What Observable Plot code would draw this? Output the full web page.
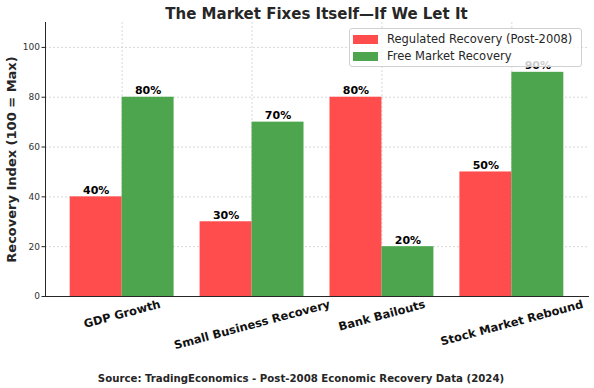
<!DOCTYPE html>
<html>
<head>
<meta charset="utf-8">
<script src="https://cdn.jsdelivr.net/npm/d3@7"></script>
<script src="https://cdn.jsdelivr.net/npm/@observablehq/plot@0.6"></script>
<style>
  html, body { margin: 0; padding: 0; background: #fff; }
  #wrap { position: relative; width: 594px; height: 388px; font-family: "DejaVu Sans", sans-serif; color: #262626; }
  #title { box-sizing: border-box; width: 594px; padding-left: 39px; height: 18px; line-height: 29px; overflow: visible; text-align: center; font-weight: bold; font-size: 15px; white-space: nowrap; }
  #chart svg { display: block; }
  #caption { box-sizing: border-box; width: 594px; padding-left: 8px; height: 22px; line-height: 26px; text-align: center; font-weight: bold; font-size: 10.2px; white-space: nowrap; }
  #legend { position: absolute; left: 349px; top: 28px; width: 231px; height: 37px; background: rgba(255,255,255,0.8);
            border: 1px solid #d0d0d0; border-radius: 3px; font-size: 11.5px; color: #262626; }
  .row { position: absolute; left: 3px; height: 17px; line-height: 17px; white-space: nowrap; }
  .sw { position: absolute; left: 0; top: 4px; width: 25px; height: 9px; }
  .lab { position: absolute; left: 34px; top: 0; }
</style>
</head>
<body>
<div id="wrap">
  <div id="title"></div>
  <div id="chart"></div>
  <div id="caption"></div>
  <div id="legend"></div>
</div>
<script>
const titleText = "The Market Fixes Itself\u2014If We Let It";
const captionText = "Source: TradingEconomics - Post-2008 Economic Recovery Data (2024)";
const yLabel = "Recovery Index (100 = Max)";
const categories = ["GDP Growth", "Small Business Recovery", "Bank Bailouts", "Stock Market Rebound"];
const series = ["Regulated Recovery (Post-2008)", "Free Market Recovery"];
const regulated = [40, 30, 80, 50];
const freeMarket = [80, 70, 20, 90];
const colors = ["#ff4d4d", "#4da64d"];
const yTicks = [0, 20, 40, 60, 80, 100];
const barWidth = 0.4;

// one row per bar; side: -1 = left of category centre, +1 = right
const data = categories.flatMap((c, i) => [
  {category: c, index: i, series: series[0], side: -1, value: regulated[i]},
  {category: c, index: i, series: series[1], side: 1, value: freeMarket[i]}
]);
const catIndex = categories.map((c, i) => i);

document.getElementById("title").textContent = titleText;
document.getElementById("caption").textContent = captionText;

const legend = document.getElementById("legend");
series.forEach((s, i) => {
  const row = document.createElement("div");
  row.className = "row";
  row.style.top = (2 + i * 17) + "px";
  const sw = document.createElement("div");
  sw.className = "sw";
  sw.style.background = colors[i];
  const lab = document.createElement("div");
  lab.className = "lab";
  lab.textContent = s;
  row.appendChild(sw); row.appendChild(lab);
  legend.appendChild(row);
});

const gridStyle = {stroke: "#c8c8c8", strokeOpacity: 1, strokeWidth: 0.7, strokeDasharray: "2,2"};
const xPad = 0.19; // matplotlib-like 5% margin of the bar span
const xDomain = [-barWidth - xPad, categories.length - 1 + barWidth + xPad];

const plot = Plot.plot({
  width: 594,
  height: 348,
  marginTop: 4,
  marginBottom: 70,
  marginLeft: 45,
  marginRight: 6,
  style: {fontFamily: "DejaVu Sans", fontSize: "9px", color: "#262626", background: "#fff"},
  x: {type: "linear", domain: xDomain, axis: null},
  y: {domain: [0, 110], axis: null},
  color: {domain: series, range: colors},
  marks: [
    Plot.gridY(yTicks, gridStyle),
    Plot.gridX(catIndex, gridStyle),
    Plot.rectY(data, {
      x1: d => d.side < 0 ? d.index - barWidth : d.index,
      x2: d => d.side < 0 ? d.index : d.index + barWidth,
      y1: 0, y2: "value", fill: "series"}),
    Plot.text(data, {x: d => d.index + d.side * barWidth / 2, y: "value", text: d => d.value + "%", dy: -3,
      lineAnchor: "bottom", fontWeight: "bold", fontSize: 11, fill: "#000"}),
    Plot.text(catIndex, {x: d => d, text: d => categories[d], frameAnchor: "bottom", dy: 4, rotate: -15,
      lineAnchor: "middle", textAnchor: "middle", fontWeight: "bold", fontSize: 11.5, fill: "#111"}),
    Plot.axisY(yTicks, {tickSize: 3.5, tickPadding: 2, fontSize: 9, stroke: "#262626",
      label: yLabel, labelAnchor: "center", labelOffset: 39, labelArrow: "none"}),
    Plot.frame({anchor: "left", stroke: "#262626"}),
    Plot.frame({anchor: "bottom", stroke: "#262626"})
  ]
});

document.getElementById("chart").appendChild(plot);

// y label styling
plot.querySelectorAll('g[aria-label="y-axis label"] text').forEach(t => {
  t.setAttribute("font-weight", "bold");
  t.setAttribute("font-size", "13");
  t.setAttribute("fill", "#262626");
});
plot.querySelectorAll('g[aria-label="y-axis tick label"]').forEach(g => g.setAttribute("fill", "#333"));

// x labels: emulate matplotlib's top-aligned bounding box of rotated labels
const s15 = Math.sin(15 * Math.PI / 180);
plot.querySelectorAll("text").forEach(t => {
  if (!categories.includes(t.textContent)) return;
  const L = t.getComputedTextLength();
  const shift = (L * s15 + 7) / 2;
  const tr = t.getAttribute("transform") || "";
  t.setAttribute("transform", `translate(0,${shift}) ` + tr);
});
</script>
</body>
</html>
